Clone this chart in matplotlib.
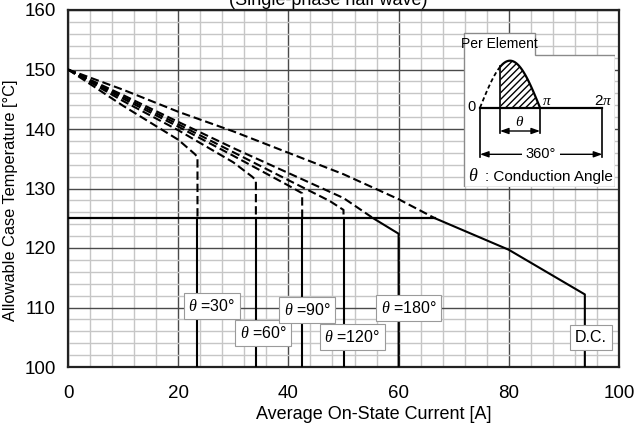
import numpy as np
import matplotlib
matplotlib.use("Agg")
import matplotlib.pyplot as plt
from matplotlib.patches import Polygon

plt.rcParams["font.family"] = ["Liberation Sans", "DejaVu Sans"]
plt.rcParams["mathtext.fontset"] = "custom"
plt.rcParams["mathtext.it"] = "Liberation Serif:italic"
plt.rcParams["lines.scale_dashes"] = False

limit_temp = 125

# curves (x = current [A], y = case temp [degC])
x30 = [0, 10, 20, 23.0, 23.5, 23.5]
y30 = [150, 143.9, 138.2, 135.8, 135.3, 100]
x60 = [0, 10, 20, 30, 33.4, 34.1, 34.1]
y60 = [150, 144.7, 139.8, 134.4, 132.0, 131.4, 100]
x90 = [0, 10, 20, 30, 40, 42.5, 42.5]
y90 = [150, 145.1, 140.4, 135.5, 130.5, 129.2, 100]
x120 = [0, 10, 20, 30, 40, 47.5, 50, 50]
y120 = [150, 145.4, 140.8, 136.1, 131.4, 127.9, 126.4, 100]
x180 = [0, 10, 20, 30, 40, 50, 55.4, 60, 60]
y180 = [150, 145.7, 141.2, 136.8, 132.6, 128.4, 125, 122.4, 100]
xdc = [0, 10, 20, 30, 40, 50, 60, 66.6, 80, 93.8, 93.8]
ydc = [150, 146.6, 142.9, 139.6, 136.0, 132.4, 128.2, 125, 119.7, 112.2, 100]

curves = [(x30, y30), (x60, y60), (x90, y90), (x120, y120), (x180, y180), (xdc, ydc)]

label_text = ["$\\theta$ =30°", "$\\theta$ =60°", "$\\theta$ =90°", "$\\theta$ =120°", "$\\theta$ =180°", "D.C."]
label_x = [26.1, 35.4, 43.4, 51.6, 61.8, 94.9]
label_y = [110.3, 105.7, 109.6, 105.0, 109.9, 105.0]


def split_at(x, y, level):
    x = np.asarray(x, float)
    y = np.asarray(y, float)
    i = int(np.argmax(y <= level))
    xc = x[i - 1] + (level - y[i - 1]) * (x[i] - x[i - 1]) / (y[i] - y[i - 1])
    upper = (np.r_[x[:i], xc], np.r_[y[:i], level])
    lower = (np.r_[xc, x[i:]], np.r_[level, y[i:]])
    return upper, lower


fig = plt.figure(figsize=(6.4, 4.26), dpi=100)
ax = fig.add_axes([68 / 640, 1 - 367 / 426, 551 / 640, 357 / 426])

ax.set_xlim(0, 100)
ax.set_ylim(100, 160)
ax.set_xticks(np.arange(0, 101, 20))
ax.set_yticks(np.arange(100, 161, 10))
ax.set_xticks(np.arange(0, 101, 4), minor=True)
ax.set_yticks(np.arange(100, 161, 2), minor=True)
ax.grid(which="minor", color="#c6c6c6", lw=1.0)
ax.grid(which="major", color="#4a4a4a", lw=1.0)
ax.set_axisbelow(True)
ax.tick_params(which="both", length=0)
ax.tick_params(axis="y", pad=9, labelsize=13.5)
ax.tick_params(axis="x", pad=13, labelsize=13.5)
for s in ax.spines.values():
    s.set_linewidth(1.6)
    s.set_color("#222222")

dc_cross = 0
for cx, cy in curves:
    up, lo = split_at(cx, cy, limit_temp)
    ax.plot(up[0], up[1], color="black", lw=1.5, dashes=(6, 2.8), zorder=3)
    ax.plot(lo[0], lo[1], color="black", lw=1.5, zorder=3)
    dc_cross = up[0][-1]

ax.plot([0, dc_cross], [limit_temp, limit_temp], color="black", lw=1.6, zorder=3)

for t, lx, ly in zip(label_text, label_x, label_y):
    ax.text(lx, ly, t, ha="center", va="center", fontsize=11.5, zorder=4,
            bbox=dict(boxstyle="square,pad=0.3", fc="white", ec="#9a9a9a", lw=0.8))

ax.set_xlabel("Average On-State Current [A]", fontsize=13)
ax.xaxis.set_label_coords(0.554, -0.108)
ax.set_ylabel("Allowable Case Temperature [°C]", fontsize=11.8)
ax.yaxis.set_label_coords(-0.09, 0.468)

fig.text(328 / 640, 1 - 5 / 426, "(Single-phase half wave)", ha="center", va="baseline", fontsize=13)

# inset sketch of the conduction waveform (pixel-like coords inside the box)
ins = fig.add_axes([463 / 640, 1 - 187 / 426, 152 / 640, 155 / 426])
ins.set_xlim(0, 152)
ins.set_ylim(155, 0)
ins.axis("off")
ins.add_patch(Polygon([(0.5, 0.5), (72, 0.5), (72, 23), (151.5, 23), (151.5, 154.5), (0.5, 154.5)],
                      closed=True, fc="white", ec="#8a8a8a", lw=1))
ins.text(36, 12, "Per Element", ha="center", va="center", fontsize=10)

base = 75.7
x0, xpi, xth = 17, 77, 37
ph = np.linspace(x0, xpi, 80)
wave = base - 47 * np.sin(np.pi * (ph - x0) / (xpi - x0))
dash_part = ph <= xth
ins.plot(ph[dash_part], wave[dash_part], color="black", lw=1.3, dashes=(3, 2))
ins.plot(ph[~dash_part], wave[~dash_part], color="black", lw=1.6)
ins.fill_between(ph[~dash_part], wave[~dash_part], base, facecolor="none", edgecolor="black",
                 hatch="/////", lw=0)
ins.plot([xth, xth], [wave[~dash_part][0], 101], color="black", lw=1.2)
ins.plot([xpi, xpi], [base, 101], color="black", lw=1.2)
ins.plot([x0, 139.3], [base, base], color="black", lw=1.6)
ins.plot([x0, x0], [base, 125], color="black", lw=1.2)
ins.plot([139.3, 139.3], [base, 125], color="black", lw=1.2)
arrow = dict(arrowstyle="<|-|>,head_length=0.5,head_width=0.18", color="black", lw=1, shrinkA=0, shrinkB=0)
ins.annotate("", xy=(xth, 99), xytext=(xpi, 99), arrowprops=arrow)
ins.annotate("", xy=(x0, 122.3), xytext=(139.3, 122.3), arrowprops=arrow)
ins.text(57, 90, "$\\theta$", ha="center", va="center", fontsize=11,
         bbox=dict(boxstyle="square,pad=0.05", fc="white", ec="none"))
ins.text(78, 122, "360°", ha="center", va="center", fontsize=10.5,
         bbox=dict(boxstyle="square,pad=0.25", fc="white", ec="none"))
ins.text(8, 75, "0", ha="center", va="center", fontsize=10.5)
ins.text(84, 69, "$\\pi$", ha="center", va="center", fontsize=11)
ins.text(140, 69, "2$\\pi$", ha="center", va="center", fontsize=11)
ins.text(10.5, 144.5, "$\\theta$", ha="center", va="center", fontsize=13)
ins.text(22, 144.5, ": Conduction Angle", ha="left", va="center", fontsize=11)

fig.savefig("out.png", dpi=100)
